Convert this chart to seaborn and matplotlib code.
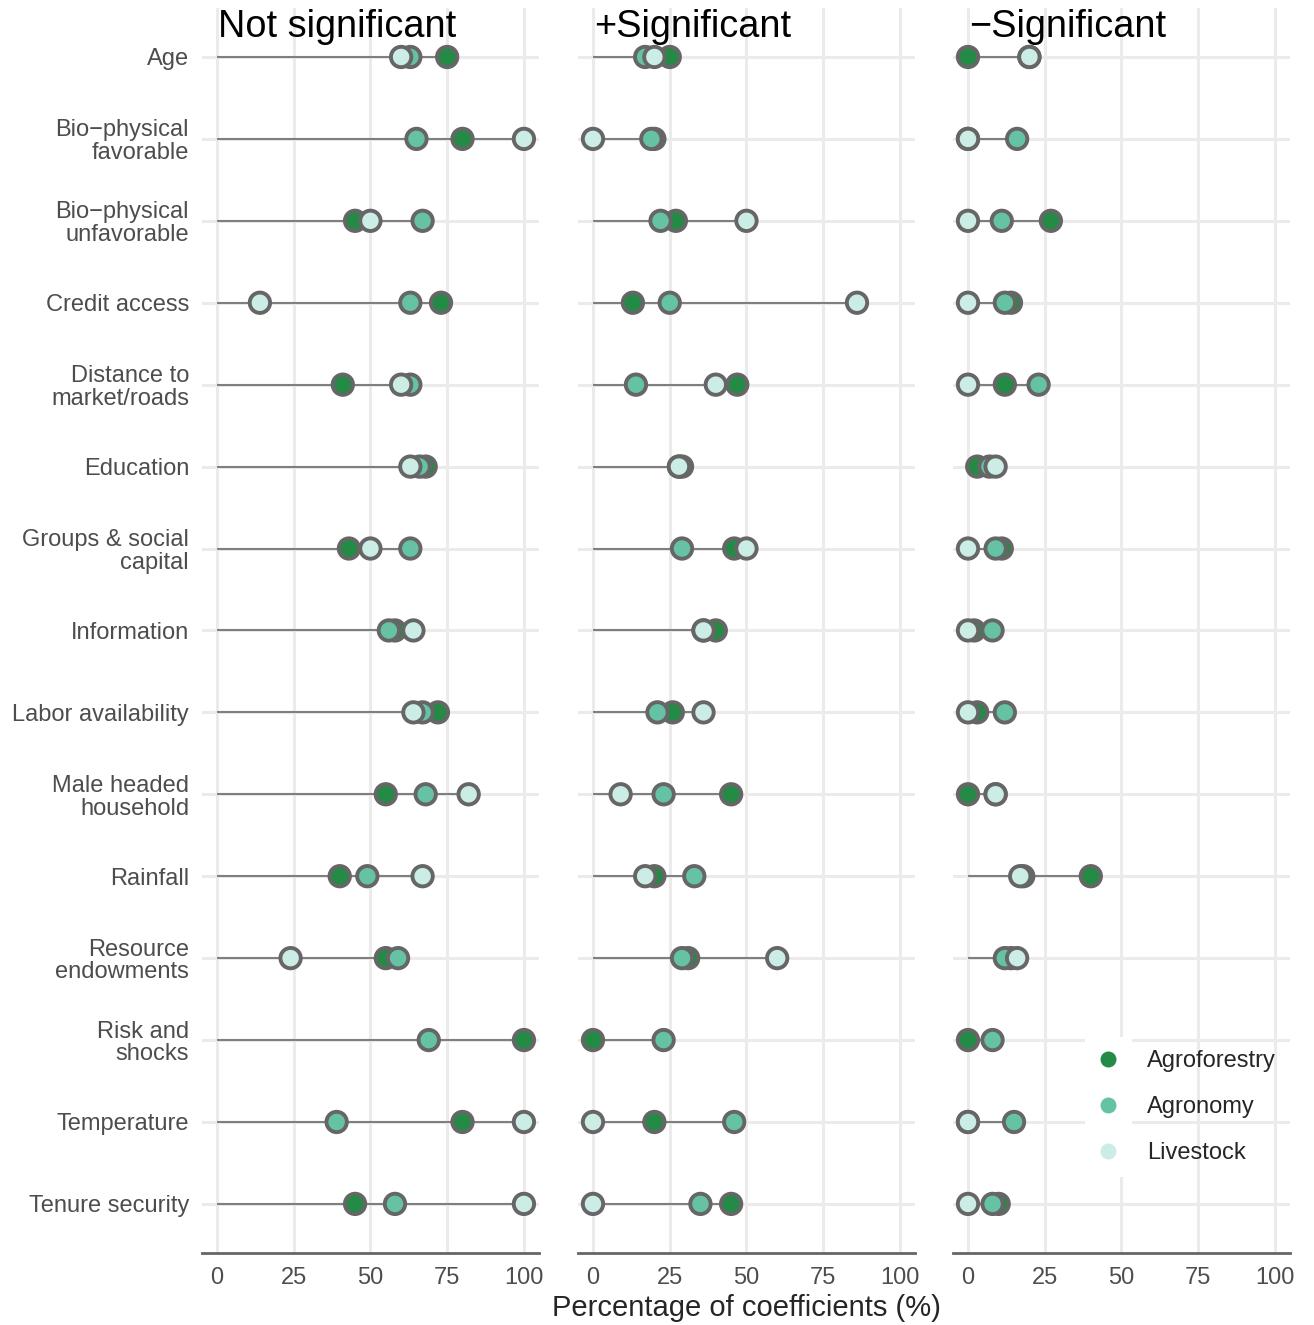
import numpy as np
import pandas as pd
import matplotlib
matplotlib.use("Agg")
import matplotlib.pyplot as plt
import matplotlib.transforms as mtransforms
from matplotlib.lines import Line2D
from matplotlib.patches import Rectangle
import seaborn as sns

# factors (rows), top to bottom
factors = ["Age", "Bio−physical\nfavorable", "Bio−physical\nunfavorable", "Credit access",
           "Distance to\nmarket/roads", "Education", "Groups & social\ncapital", "Information",
           "Labor availability", "Male headed\nhousehold", "Rainfall", "Resource\nendowments",
           "Risk and\nshocks", "Temperature", "Tenure security"]
groups = ["Agroforestry", "Agronomy", "Livestock"]
panels = ["Not significant", "+Significant", "−Significant"]

nan = np.nan
# Not significant (%)
ns_agroforestry = [75, 80, 45, 73, 41, 68, 43, 58, 72, 55, 40, 55, 100, 80, 45]
ns_agronomy = [63, 65, 67, 63, 63, 66, 63, 56, 67, 68, 49, 59, 69, 39, 58]
ns_livestock = [60, 100, 50, 14, 60, 63, 50, 64, 64, 82, 67, 24, nan, 100, 100]
# +Significant (%)
pos_agroforestry = [25, 20, 27, 13, 47, 29, 46, 40, 26, 45, 20, 31, 0, 20, 45]
pos_agronomy = [17, 19, 22, 25, 14, 28, 29, 36, 21, 23, 33, 29, 23, 46, 35]
pos_livestock = [20, 0, 50, 86, 40, 28, 50, 36, 36, 9, 17, 60, nan, 0, 0]
# -Significant (%)
neg_agroforestry = [0, 0, 27, 14, 12, 3, 11, 2, 3, 0, 40, 14, 0, 0, 10]
neg_agronomy = [20, 16, 11, 12, 23, 7, 9, 8, 12, 9, 18, 12, 8, 15, 8]
neg_livestock = [20, 0, 0, 0, 0, 9, 0, 0, 0, 9, 17, 16, nan, 0, 0]

values = {
    "Not significant": [ns_agroforestry, ns_agronomy, ns_livestock],
    "+Significant": [pos_agroforestry, pos_agronomy, pos_livestock],
    "−Significant": [neg_agroforestry, neg_agronomy, neg_livestock],
}

palette = {"Agroforestry": "#238B45", "Agronomy": "#66C2A4", "Livestock": "#CCECE6"}

rows = []
for p in panels:
    for g, vals in zip(groups, values[p]):
        for f, v in zip(factors, vals):
            rows.append({"panel": p, "group": g, "factor": f, "value": v})
df = pd.DataFrame(rows)

sns.set_style("white")
plt.rcParams['font.family'] = ['Liberation Sans', 'DejaVu Sans']

fig = plt.figure(figsize=(13.14, 13.25), dpi=100)
lefts = [0.1534, 0.4396, 0.7250]
axes = []
for i, p in enumerate(panels):
    ax = fig.add_axes([lefts[i], 0.0543, 0.2570, 0.9398], sharey=axes[0] if axes else None)
    axes.append(ax)
    sub = df[df["panel"] == p]

    # segment from 0 to the max per factor
    maxs = sub.groupby("factor", sort=False)["value"].max().reindex(factors)
    ax.hlines(y=factors, xmin=0, xmax=maxs.values, color="#7F7F7F", lw=1.5, zorder=2)

    sns.scatterplot(data=sub.dropna(), x="value", y="factor", hue="group", hue_order=groups,
                    palette=palette, s=215, edgecolor="#666666", linewidth=2.8,
                    legend=False, ax=ax, zorder=3)

    ax.set_xlim(-5, 105)
    ax.set_xticks([0, 25, 50, 75, 100])
    ax.set_xlabel("")
    ax.set_ylabel("")
    ax.grid(True, color="#EBEBEB", lw=2.2)
    ax.set_axisbelow(True)
    for s in ["top", "right", "left"]:
        ax.spines[s].set_visible(False)
    ax.spines["bottom"].set_color("#666666")
    ax.spines["bottom"].set_linewidth(2)
    ax.tick_params(axis="x", length=4.5, width=1.6, color="#333333", labelsize=17,
                   labelcolor="#4D4D4D", pad=5.5)
    if i == 0:
        ax.tick_params(axis="y", length=5, width=1.6, color="#333333", labelsize=17,
                       labelcolor="#4D4D4D", pad=4)
    else:
        ax.tick_params(axis="y", length=0, labelleft=False)

    trans = mtransforms.blended_transform_factory(ax.transData, ax.transAxes)
    ax.text(0.5, 0.9766, p, transform=trans, fontsize=27.3, ha="left", va="baseline", color="black")

axes[0].set_ylim(len(factors) - 0.4, -0.6)
for lab in axes[0].get_yticklabels():
    lab.set_linespacing(1.05)

fig.text(746.5 / 1314, 1 - 1308 / 1325, "Percentage of coefficients (%)", fontsize=21,
         ha="center", va="center")

# legend in the last panel
ax3 = axes[2]
ax3.add_patch(Rectangle((1085 / 1314, 1 - 1177 / 1325), 47 / 1314, 140 / 1325,
                        transform=fig.transFigure, facecolor="white", edgecolor="none", zorder=1.5))
handles = [Line2D([], [], marker="o", linestyle="none", markersize=11.5,
                  markerfacecolor=palette[g], markeredgewidth=0, label=g) for g in groups]
ax3.legend(handles=handles, loc="center left", bbox_to_anchor=(1096 / 1314, 1 - 1107 / 1325),
           bbox_transform=fig.transFigure, frameon=False, fontsize=17, handlelength=1.0,
           handletextpad=1.15, labelspacing=1.02, borderpad=0, borderaxespad=0)

fig.savefig("out.png", dpi=100)
